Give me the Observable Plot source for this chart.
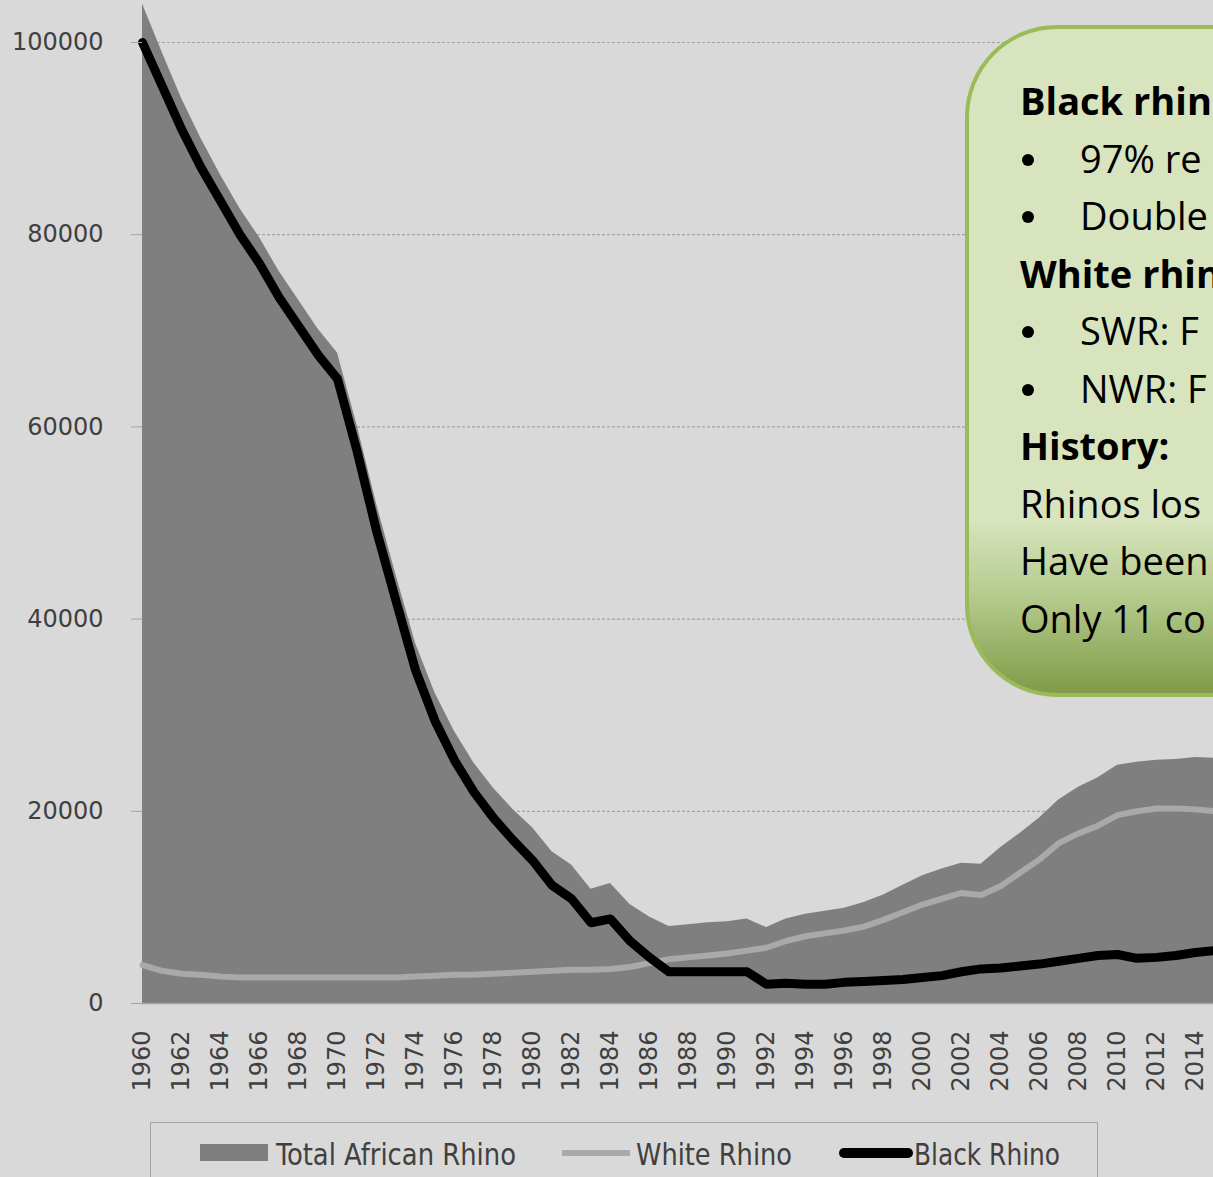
<!DOCTYPE html>
<html>
<head>
<meta charset="utf-8">
<script src="https://cdn.jsdelivr.net/npm/d3@7"></script>
<script src="https://cdn.jsdelivr.net/npm/@observablehq/plot@0.6"></script>
<style>
  html, body { margin: 0; padding: 0; }
  body { width: 1213px; height: 1177px; overflow: hidden; background: #d9d9d9; position: relative; }
  #chart { position: absolute; left: 0; top: 0; width: 1254px; }
  #chart svg { max-width: none !important; }
  #callout {
    position: absolute; left: 965px; top: 25px; width: 560px; height: 672px;
    border: 4px solid #9bbb59; border-radius: 92px;
    background: linear-gradient(to bottom, #d7e4bd 0%, #d7e4bd 74%, #b3c98a 86%, #7f9b48 100%);
    font-family: "Open Sans", sans-serif; font-size: 38px; color: #000;
    box-sizing: border-box; padding-top: 43px; padding-left: 51px; white-space: nowrap;
  }
  #callout div { height: 57.5px; line-height: 57.5px; }
  #callout .h { font-weight: bold; }
  #callout .b { position: relative; padding-left: 60px; }
  #callout .b::before { content: ""; position: absolute; left: 2px; top: 24px; width: 12px; height: 12px; border-radius: 50%; background: #000; }
  #legend { position: absolute; left: 150px; top: 1122px; }
</style>
</head>
<body>
<div id="chart"></div>
<div id="callout">
  <div class="h">Black rhin</div>
  <div class="b">97% re</div>
  <div class="b">Double</div>
  <div class="h">White rhin</div>
  <div class="b">SWR: F</div>
  <div class="b">NWR: F</div>
  <div class="h">History:</div>
  <div>Rhinos los</div>
  <div>Have been</div>
  <div>Only 11 co</div>
</div>
<svg id="legend" width="960" height="60"></svg>
<script>
const years = [1960,1961,1962,1963,1964,1965,1966,1967,1968,1969,1970,1971,1972,1973,1974,1975,1976,1977,1978,1979,1980,1981,1982,1983,1984,1985,1986,1987,1988,1989,1990,1991,1992,1993,1994,1995,1996,1997,1998,1999,2000,2001,2002,2003,2004,2005,2006,2007,2008,2009,2010,2011,2012,2013,2014,2015];
const totalRhino = [104000,99000,94200,90000,86200,82700,79700,76200,73200,70200,67700,60200,52000,44600,37500,32300,28300,25000,22400,20200,18300,15800,14400,11900,12500,10300,9000,8000,8200,8400,8500,8800,7900,8800,9300,9600,9900,10500,11300,12300,13300,14000,14600,14500,16200,17700,19300,21200,22500,23500,24800,25100,25300,25400,25600,25500];
const whiteRhino = [4000,3400,3100,3000,2800,2700,2700,2700,2700,2700,2700,2700,2700,2700,2800,2900,3000,3000,3100,3200,3300,3400,3500,3500,3600,3800,4200,4600,4800,5000,5200,5500,5800,6500,7000,7300,7600,8000,8700,9500,10300,10900,11500,11300,12200,13600,15000,16700,17700,18500,19600,20000,20300,20300,20200,20000];
const blackRhino = [100000,95500,91000,87000,83500,80000,77000,73500,70500,67500,65000,57500,49200,41900,34700,29400,25300,22000,19300,17000,14900,12300,10900,8400,8800,6500,4800,3300,3300,3300,3300,3300,2000,2100,2000,2000,2200,2300,2400,2500,2700,2900,3300,3600,3700,3900,4100,4400,4700,5000,5100,4700,4800,5000,5300,5500];
const yTicks = [0,20000,40000,60000,80000,100000];
const xTicks = [1960,1962,1964,1966,1968,1970,1972,1974,1976,1978,1980,1982,1984,1986,1988,1990,1992,1994,1996,1998,2000,2002,2004,2006,2008,2010,2012,2014];
const seriesNames = ["Total African Rhino","White Rhino","Black Rhino"];

const data = years.map((yr, i) => ({year: yr, total: totalRhino[i], white: whiteRhino[i], black: blackRhino[i]}));

const chart = Plot.plot({
  width: 1254, height: 1113,
  marginLeft: 142, marginRight: 20, marginTop: 42, marginBottom: 110,
  style: {background: "transparent", fontFamily: "'DejaVu Sans', sans-serif", fontSize: "24px", color: "#404040", overflow: "visible", maxWidth: "none"},
  x: {domain: [1960, 2016], axis: null},
  y: {domain: [0, 100000], axis: null},
  marks: [
    Plot.ruleY(yTicks.filter(d => d > 0), {stroke: "#a3a3a3", strokeWidth: 1.2, strokeDasharray: "3,2"}),
    Plot.areaY(data, {x: "year", y: "total", fill: "#7f7f7f"}),
    Plot.line(data, {x: "year", y: "white", stroke: "#a9a9a9", strokeWidth: 6, strokeLinejoin: "round"}),
    Plot.line(data, {x: "year", y: "black", stroke: "#000", strokeWidth: 9, strokeLinejoin: "round", strokeLinecap: "round"}),
    Plot.ruleY([0], {stroke: "#a3a3a3", strokeWidth: 1.5}),
    Plot.axisY({ticks: yTicks, tickFormat: d => String(d), tickSize: 11, tickPadding: 28, stroke: "#a3a3a3", fill: "#404040", label: null}),
    Plot.axisX({ticks: xTicks, tickFormat: d => String(d), tickRotate: -90, tickSize: 0, tickPadding: 27, fill: "#404040", label: null})
  ]
});
chart.style.maxWidth = "none";
document.getElementById("chart").appendChild(chart);

// legend
const lg = d3.select("#legend");
lg.append("rect").attr("x", 0.5).attr("y", 0.5).attr("width", 947).attr("height", 80)
  .attr("fill", "none").attr("stroke", "#a3a3a3");
lg.append("rect").attr("x", 50).attr("y", 22).attr("width", 68).attr("height", 17).attr("fill", "#7f7f7f");
lg.append("line").attr("x1", 412).attr("x2", 480).attr("y1", 31).attr("y2", 31).attr("stroke", "#a9a9a9").attr("stroke-width", 6);
lg.append("line").attr("x1", 694).attr("x2", 758).attr("y1", 31).attr("y2", 31).attr("stroke", "#000").attr("stroke-width", 10).attr("stroke-linecap", "round");
const lx = [126, 486, 764], lw = [240, 156, 146];
seriesNames.forEach((t, i) => {
  lg.append("text").attr("x", lx[i]).attr("y", 43).text(t)
    .attr("font-family", "'DejaVu Sans Condensed', 'Liberation Sans Narrow', sans-serif")
    .attr("font-size", 30).attr("fill", "#404040")
    .attr("textLength", lw[i]).attr("lengthAdjust", "spacingAndGlyphs");
});
</script>
</body>
</html>
